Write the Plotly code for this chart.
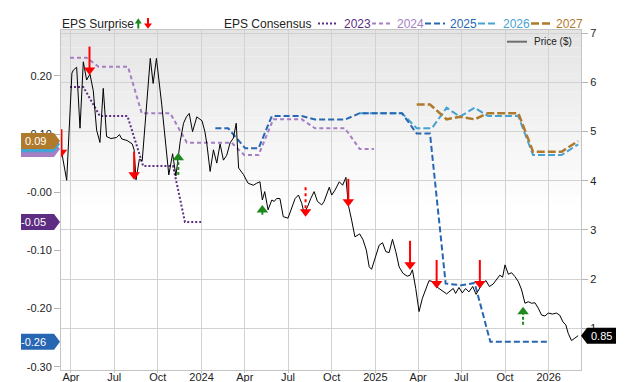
import plotly.graph_objects as go

FONT = "Liberation Sans, Arial, Helvetica, sans-serif"

# ---------------- data ----------------
price_dates = [
    '2023-03-11', '2023-03-23', '2023-04-03', '2023-04-06', '2023-04-13', '2023-04-20', '2023-04-27', '2023-05-04', '2023-05-11', '2023-05-18',
    '2023-05-25', '2023-06-01', '2023-06-08', '2023-06-15', '2023-06-24', '2023-07-06', '2023-07-12', '2023-07-17', '2023-07-28', '2023-08-08',
    '2023-08-12', '2023-08-16', '2023-08-23', '2023-08-29', '2023-09-04', '2023-09-15', '2023-09-21', '2023-09-28', '2023-10-09', '2023-10-17',
    '2023-10-24', '2023-11-01', '2023-11-08', '2023-11-17', '2023-11-24', '2023-11-30', '2023-12-06', '2023-12-13', '2023-12-22', '2024-01-02',
    '2024-01-08', '2024-01-12', '2024-01-19', '2024-01-26', '2024-02-02', '2024-02-09', '2024-02-16', '2024-02-23', '2024-03-01', '2024-03-08',
    '2024-03-14', '2024-03-19', '2024-03-29', '2024-04-08', '2024-04-19', '2024-04-26', '2024-05-03', '2024-05-08', '2024-05-13', '2024-05-20',
    '2024-05-28', '2024-06-02', '2024-06-07', '2024-06-14', '2024-06-21', '2024-07-01', '2024-07-09', '2024-07-16', '2024-07-23', '2024-07-30',
    '2024-08-04', '2024-08-11', '2024-08-18', '2024-08-25', '2024-09-01', '2024-09-10', '2024-09-15', '2024-09-20', '2024-09-26', '2024-10-01',
    '2024-10-08', '2024-10-17', '2024-10-24', '2024-10-31', '2024-11-05', '2024-11-12', '2024-11-19', '2024-11-29', '2024-12-06', '2024-12-13',
    '2024-12-19', '2024-12-24', '2024-12-31', '2025-01-09', '2025-01-16', '2025-01-23', '2025-01-30', '2025-02-06', '2025-02-13', '2025-02-20',
    '2025-02-28', '2025-03-09', '2025-03-15', '2025-03-20', '2025-03-27', '2025-04-03', '2025-04-10', '2025-04-17', '2025-04-24', '2025-05-02',
    '2025-05-08', '2025-05-15', '2025-05-24', '2025-05-31', '2025-06-05', '2025-06-14', '2025-06-19', '2025-06-26', '2025-07-03', '2025-07-10',
    '2025-07-17', '2025-07-25', '2025-08-01', '2025-08-07', '2025-08-15', '2025-08-22', '2025-08-29', '2025-09-06', '2025-09-13', '2025-09-20',
    '2025-09-26', '2025-10-01', '2025-10-08', '2025-10-15', '2025-10-22', '2025-10-29', '2025-11-05', '2025-11-12', '2025-11-19', '2025-11-26',
    '2025-12-03', '2025-12-10', '2025-12-17', '2025-12-24', '2025-12-31', '2026-01-09', '2026-01-17', '2026-01-24', '2026-01-31', '2026-02-06',
    '2026-02-11', '2026-02-18', '2026-02-25', '2026-03-04',
]
price_values = [
    4.66, 4.01, 6.19, 6.25, 6.31, 5.07, 6.42, 6.05, 6.17, 5.83,
    5.03, 4.78, 5.88, 4.90, 4.86, 4.88, 4.94, 4.85, 4.82, 4.75,
    4.63, 4.02, 4.44, 4.41, 5.14, 6.49, 5.98, 6.49, 5.56, 4.83,
    4.12, 4.55, 4.10, 4.80, 5.17, 5.30, 5.37, 5.00, 5.30, 5.22,
    5.00, 4.76, 4.19, 4.63, 4.36, 4.75, 4.42, 4.52, 4.77, 4.87,
    5.17, 4.26, 4.13, 3.95, 3.91, 3.95, 3.98, 3.61, 3.78, 3.41,
    3.61, 3.58, 3.64, 3.64, 3.27, 3.24, 3.47, 3.64, 3.71, 3.54,
    3.34, 3.47, 3.64, 3.78, 3.58, 3.51, 3.58, 3.71, 3.87, 3.71,
    3.81, 3.98, 3.91, 4.07, 3.51, 3.20, 2.86, 2.92, 2.80, 2.59,
    2.25, 2.20, 2.42, 2.69, 2.74, 2.56, 2.54, 2.81, 2.56, 2.25,
    2.12, 2.06, 2.08, 2.19, 1.81, 1.34, 1.61, 1.81, 1.97, 1.95,
    1.86, 1.81, 1.74, 1.70, 1.74, 1.81, 1.71, 1.83, 1.72, 1.81,
    1.74, 1.85, 1.69, 1.79, 1.92, 1.97, 1.85, 1.90, 1.98, 2.08,
    2.04, 2.29, 2.10, 2.13, 2.05, 1.95, 1.78, 1.51, 1.54, 1.51,
    1.52, 1.41, 1.27, 1.25, 1.31, 1.29, 1.31, 1.27, 1.13, 1.07,
    0.90, 0.75, 0.80, 0.85,
]

eps2023_dates = ['2023-03-30', '2023-04-27', '2023-06-01', '2023-07-29', '2023-08-31', '2023-11-02', '2023-11-27', '2023-12-31']
eps2023_values = [0.181, 0.181, 0.131, 0.131, 0.045, 0.045, -0.051, -0.051]

eps2024_dates = ['2023-03-30', '2023-05-04', '2023-05-29', '2023-07-30', '2023-08-28', '2023-10-27', '2023-12-01', '2024-03-04',
                 '2024-03-31', '2024-04-30', '2024-05-31', '2024-07-30', '2024-08-27', '2024-10-29', '2024-11-29', '2024-12-29']
eps2024_values = [0.2315, 0.2315, 0.216, 0.216, 0.136, 0.136, 0.0853, 0.0853,
                  0.064, 0.064, 0.1255, 0.1255, 0.110, 0.110, 0.0744, 0.0744]

eps2025_dates = ['2024-01-30', '2024-02-26', '2024-04-02', '2024-04-30', '2024-05-28', '2024-07-30', '2024-08-27', '2024-10-29',
                 '2024-11-29', '2025-02-26', '2025-03-29', '2025-04-26', '2025-05-29', '2025-07-01', '2025-07-29', '2025-08-31', '2025-12-31']
eps2025_values = [0.110, 0.110, 0.0756, 0.0756, 0.131, 0.131, 0.125, 0.125,
                  0.136, 0.136, 0.101, 0.101, -0.157, -0.160, -0.156, -0.257, -0.257]

eps2026_dates = ['2024-11-29', '2025-02-26', '2025-03-29', '2025-04-30', '2025-05-31', '2025-06-28', '2025-07-29', '2025-08-26',
                 '2025-10-29', '2025-11-29', '2026-01-28', '2026-03-04']
eps2026_values = [0.136, 0.136, 0.110, 0.110, 0.1455, 0.130, 0.1455, 0.131, 0.131, 0.064, 0.064, 0.0825]

eps2027_dates = ['2025-03-29', '2025-04-26', '2025-05-31', '2025-06-28', '2025-07-29', '2025-08-26', '2025-10-29', '2025-11-29',
                 '2026-01-28', '2026-03-04']
eps2027_values = [0.151, 0.151, 0.1255, 0.130, 0.1255, 0.136, 0.136, 0.0698, 0.0698, 0.088]

# EPS surprise arrows: drawn from price level "from" to price level "to"
surprise_dates = ['2023-03-12', '2023-05-10', '2023-08-12', '2023-11-13', '2024-05-08', '2024-08-07',
                  '2024-11-05', '2025-03-15', '2025-05-10', '2025-08-09', '2025-11-08']
surprise_from = [5.05, 6.73, 4.59, 4.12, 3.31, 3.87, 4.04, 2.78, 2.39, 2.39, 1.07]
surprise_to = [4.48, 6.15, 4.02, 4.57, 3.51, 3.27, 3.47, 2.19, 1.81, 1.81, 1.44]
surprise_style = ['solid', 'solid', 'solid', 'dash', 'dash', 'dot', 'solid', 'solid', 'solid', 'solid', 'dash']

x_tick_dates = ['2023-04-01', '2023-07-01', '2023-10-01', '2024-01-01', '2024-04-01', '2024-07-01',
                '2024-10-01', '2025-01-01', '2025-04-01', '2025-07-01', '2025-10-01', '2026-01-01']
x_tick_labels = ['Apr', 'Jul', 'Oct', '2024', 'Apr', 'Jul', 'Oct', '2025', 'Apr', 'Jul', 'Oct', '2026']
eps_tick_values = [0.20, 0.10, 0.00, -0.10, -0.20, -0.30]
eps_tick_labels = ['0.20', '0.10', '-0.00', '-0.10', '-0.20', '-0.30']
price_tick_values = [1, 2, 3, 4, 5, 6, 7]
price_tick_labels = ['1', '2', '3', '4', '5', '6', '7']

series_names = ['2023', '2024', '2025', '2026', '2027']

# ---------------- layout constants ----------------
W, H = 640, 382
ML, MR, MT, MB = 61, 59, 30, 12
PW = W - ML - MR
PH = H - MT - MB
X_RANGE = ['2023-03-11', '2026-03-10']
EPS_RANGE = [-0.3057, 0.2791]
PRICE_RANGE = [0.152, 7.067]


def fx(px):
    return (px - ML) / PW


def fy(py):
    return (H - MB - py) / PH


STYLE = {
    '2023': dict(color='#5c2d83', dash='2px,2px', width=2),
    '2024': dict(color='#a57ec4', dash='4px,3px', width=2),
    '2025': dict(color='#2766b3', dash='6px,3px', width=2),
    '2026': dict(color='#45a3d3', dash='7px,3px', width=2),
    '2027': dict(color='#b07a2c', dash='8px,3px', width=2.5),
}
SERIES = {
    '2023': (eps2023_dates, eps2023_values),
    '2024': (eps2024_dates, eps2024_values),
    '2025': (eps2025_dates, eps2025_values),
    '2026': (eps2026_dates, eps2026_values),
    '2027': (eps2027_dates, eps2027_values),
}
RED = '#ff0000'
GREEN = '#1e8a1e'

fig = go.Figure()

for name in ['2023', '2024', '2026', '2025', '2027']:
    d, v = SERIES[name]
    fig.add_trace(go.Scatter(x=d, y=v, mode='lines', name=name, yaxis='y',
                             line=dict(color=STYLE[name]['color'], dash=STYLE[name]['dash'],
                                       width=STYLE[name]['width']),
                             showlegend=False, hoverinfo='skip'))

fig.add_trace(go.Scatter(x=price_dates, y=price_values, mode='lines', name='Price ($)', yaxis='y2',
                         line=dict(color='#000000', width=1), showlegend=False, hoverinfo='skip'))

# surprise arrows
price_per_px = (PRICE_RANGE[1] - PRICE_RANGE[0]) / PH
head_off = 5 * price_per_px
head_x, head_y, head_sym, head_col = [], [], [], []
for d, a, b, st in zip(surprise_dates, surprise_from, surprise_to, surprise_style):
    down = b < a
    col = RED if down else GREEN
    center = b + head_off if down else b - head_off
    fig.add_trace(go.Scatter(x=[d, d], y=[a, center], mode='lines', yaxis='y2',
                             line=dict(color=col, width=2, dash=st if st != 'dash' else '3px,2px'),
                             showlegend=False, hoverinfo='skip'))
    head_x.append(d)
    head_y.append(center)
    head_sym.append('triangle-down' if down else 'triangle-up')
    head_col.append(col)
fig.add_trace(go.Scatter(x=head_x, y=head_y, mode='markers', yaxis='y2',
                         marker=dict(symbol=head_sym, color=head_col, size=10, line=dict(width=0)),
                         showlegend=False, hoverinfo='skip'))

shapes = []
annotations = []

# background gradient at top of plot area
n_bands = 20
g_top, g_bot = 30, 205
for i in range(n_bands):
    y0 = g_top + (g_bot - g_top) * i / n_bands
    y1 = g_top + (g_bot - g_top) * (i + 1) / n_bands
    t = (i + 0.5) / n_bands
    c = int(228 + (255 - 228) * t)
    shapes.append(dict(type='rect', xref='paper', yref='paper', x0=0, x1=1, y0=fy(y1), y1=fy(y0),
                       fillcolor=f'rgb({c},{c},{c})', line=dict(width=0), layer='below'))

# left value tags (last consensus value of each series); a tag covered by a later one shows no text
eps_per_px = (EPS_RANGE[1] - EPS_RANGE[0]) / PH
h = 8 * eps_per_px
tag_order = ['2024', '2026', '2023', '2025', '2027']
for k, name in enumerate(tag_order):
    v = SERIES[name][1][-1]
    col = STYLE[name]['color']
    path = (f"M{fx(21)},{v - h} L{fx(54)},{v - h} L{fx(60)},{v} "
            f"L{fx(54)},{v + h} L{fx(21)},{v + h} Z")
    shapes.append(dict(type='path', xref='paper', yref='y', path=path, fillcolor=col,
                       line=dict(width=0), layer='above'))
    covered = any(abs(SERIES[o][1][-1] - v) < 2 * h for o in tag_order[k + 1:])
    if not covered:
        annotations.append(dict(xref='paper', yref='y', x=fx(47.5), y=v, text=f"{v:.2f}",
                                xanchor='right', yanchor='middle', showarrow=False,
                                font=dict(family=FONT, size=11, color='#ffffff')))

# right price tag
pv = price_values[-1]
hp = 8 * price_per_px
path = (f"M{fx(581)},{pv} L{fx(587)},{pv + hp} L{fx(616)},{pv + hp} "
        f"L{fx(616)},{pv - hp} L{fx(587)},{pv - hp} Z")
shapes.append(dict(type='path', xref='paper', yref='y2', path=path, fillcolor='#000000',
                   line=dict(width=0), layer='above'))
annotations.append(dict(xref='paper', yref='y2', x=fx(601.5), y=pv, text=f"{pv:.2f}",
                        xanchor='center', yanchor='middle', showarrow=False,
                        font=dict(family=FONT, size=11, color='#ffffff')))

# ---- top legend (manual) ----
LY = 23.5
annotations.append(dict(xref='paper', yref='paper', x=fx(60), y=fy(LY), text='EPS Surprise',
                        xanchor='left', yanchor='middle', showarrow=False,
                        font=dict(family=FONT, size=12, color='#222222')))
# green up arrow icon
shapes.append(dict(type='path', xref='paper', yref='paper',
                   path=f"M{fx(134.8)},{fy(23.5)} L{fx(141.8)},{fy(23.5)} L{fx(138.3)},{fy(18.3)} Z",
                   fillcolor=GREEN, line=dict(width=0)))
shapes.append(dict(type='line', xref='paper', yref='paper', x0=fx(138.3), x1=fx(138.3),
                   y0=fy(23), y1=fy(28.5), line=dict(color=GREEN, width=2)))
# red down arrow icon
shapes.append(dict(type='path', xref='paper', yref='paper',
                   path=f"M{fx(144)},{fy(23.5)} L{fx(152)},{fy(23.5)} L{fx(148)},{fy(28.8)} Z",
                   fillcolor=RED, line=dict(width=0)))
shapes.append(dict(type='line', xref='paper', yref='paper', x0=fx(148), x1=fx(148),
                   y0=fy(18), y1=fy(24), line=dict(color=RED, width=2)))

annotations.append(dict(xref='paper', yref='paper', x=fx(221.5), y=fy(LY), text='EPS Consensus',
                        xanchor='left', yanchor='middle', showarrow=False,
                        font=dict(family=FONT, size=12, color='#222222')))
leg_pos = {'2023': (318, 338, 341.5), '2024': (372, 392, 395), '2025': (425, 445, 448),
           '2026': (478, 498, 501), '2027': (531, 551, 554)}
for name in series_names:
    x0, x1, xt = leg_pos[name]
    shapes.append(dict(type='line', xref='paper', yref='paper', x0=fx(x0), x1=fx(x1),
                       y0=fy(LY), y1=fy(LY),
                       line=dict(color=STYLE[name]['color'], dash=STYLE[name]['dash'],
                                 width=STYLE[name]['width'])))
    annotations.append(dict(xref='paper', yref='paper', x=fx(xt), y=fy(LY), text=name,
                            xanchor='left', yanchor='middle', showarrow=False,
                            font=dict(family=FONT, size=12, color=STYLE[name]['color'])))

# price legend inside plot
shapes.append(dict(type='line', xref='paper', yref='paper', x0=fx(507), x1=fx(527),
                   y0=fy(41.7), y1=fy(41.7), line=dict(color='#6e6e6e', width=2)))
annotations.append(dict(xref='paper', yref='paper', x=fx(531.5), y=fy(41.7), text='Price ($)',
                        xanchor='left', yanchor='middle', showarrow=False,
                        font=dict(family=FONT, size=10, color='#222222')))

GRID = '#d2d2d2'
AXL = '#c4c4c4'
fig.update_layout(
    width=W, height=H,
    margin=dict(l=ML, r=MR, t=MT, b=MB, pad=0, autoexpand=False),
    paper_bgcolor='#ffffff', plot_bgcolor='#ffffff',
    font=dict(family=FONT, size=11, color='#222222'),
    showlegend=False,
    shapes=shapes, annotations=annotations,
    xaxis=dict(type='date', range=X_RANGE, tickvals=x_tick_dates, ticktext=x_tick_labels,
               showgrid=True, gridcolor=GRID, gridwidth=1, ticks='outside', ticklen=2,
               ticklabelstandoff=-5,
               tickcolor=AXL, showline=True, linecolor=AXL, linewidth=1, mirror=True,
               tickfont=dict(family=FONT, size=11, color='#222222'), zeroline=False,
               automargin=False, fixedrange=True),
    yaxis=dict(range=EPS_RANGE, tickvals=eps_tick_values, ticktext=eps_tick_labels,
               showgrid=False, zeroline=False, ticks='outside', ticklen=6, tickcolor='#b5b5b5',
               showline=True, linecolor=AXL, linewidth=1, automargin=False,
               tickfont=dict(family=FONT, size=11, color='#222222')),
    yaxis2=dict(range=PRICE_RANGE, tickvals=price_tick_values, ticktext=price_tick_labels,
                overlaying='y', side='right', showgrid=True, gridcolor=GRID, gridwidth=1,
                zeroline=False, ticks='outside', ticklen=6, tickcolor='#b5b5b5',
                showline=True, linecolor=AXL, linewidth=1, automargin=False,
                tickfont=dict(family=FONT, size=11, color='#222222')),
)

fig.write_html("out.html", config={'displayModeBar': False},
               post_script="document.body.style.margin='0';document.body.style.padding='0';")
